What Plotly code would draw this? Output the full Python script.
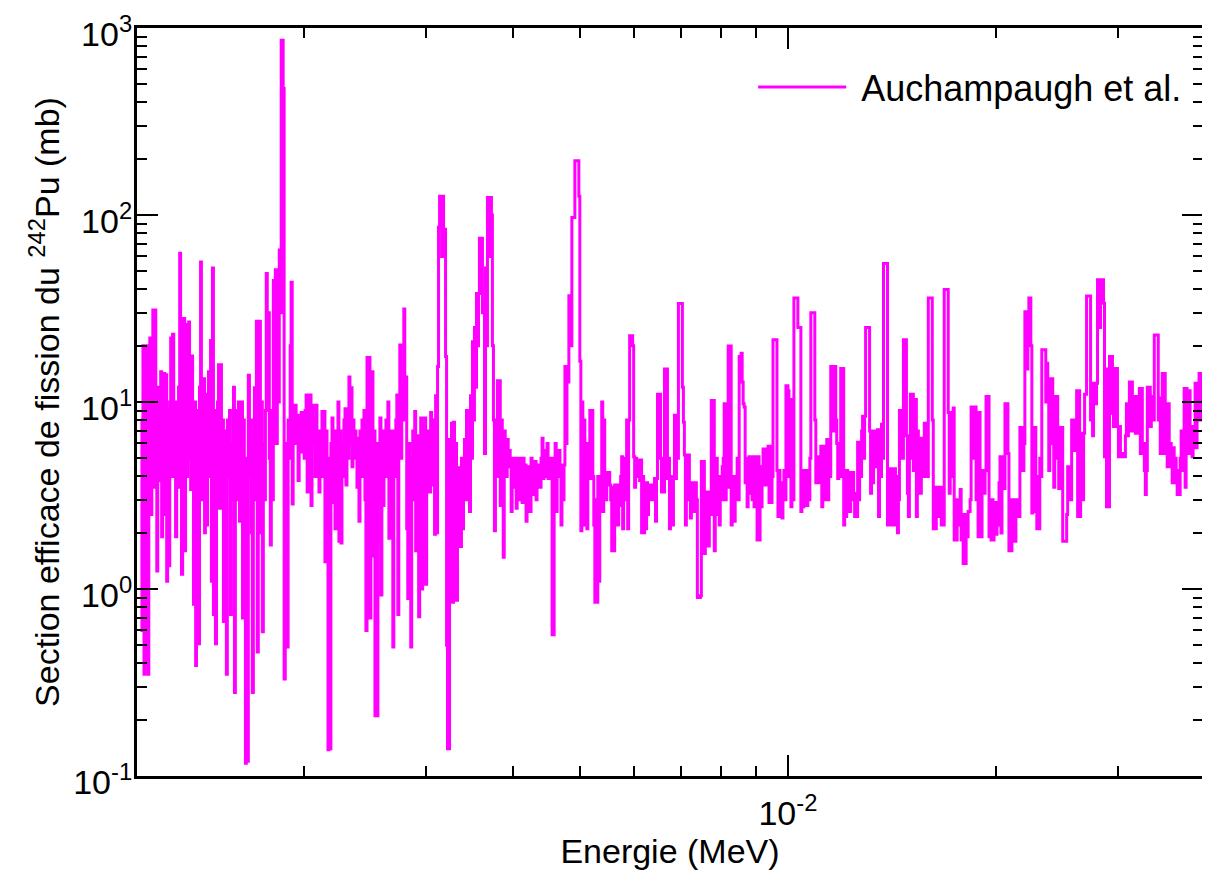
import plotly.graph_objects as go

# Energies in keV, cross sections in mb.
# Region A : ~1.16 - 1.63 keV
energy_a = [1.161,1.165,1.169,1.173,1.176,1.180,1.184,1.188,1.192,1.196,
            1.200,1.204,1.208,1.212,1.216,1.220,1.224,1.228,1.232,1.236,
            1.240,1.244,1.248,1.253,1.257,1.261,1.265,1.269,1.273,1.278,
            1.282,1.286,1.290,1.295,1.299,1.303,1.308,1.312,1.316,1.321,
            1.325,1.329,1.334,1.338,1.343,1.347,1.352,1.356,1.361,1.365,
            1.370,1.374,1.379,1.383,1.388,1.393,1.397,1.402,1.406,1.411,
            1.416,1.420,1.425,1.430,1.435,1.439,1.444,1.449,1.454,1.459,
            1.464,1.468,1.473,1.478,1.483,1.488,1.493,1.498,1.503,1.508,
            1.513,1.518,1.523,1.528,1.533,1.538,1.543,1.548,1.553,1.559,
            1.564,1.569,1.574,1.580,1.585,1.590,1.596,1.601,1.606,1.612,
            1.617,1.622,1.628,1.633]
sigma_a = [8,0.6,20,0.35,14,0.4,20,0.35,7,22,
           2.5,12,31,3.5,31,5,1.25,12,3.8,9,
           14.5,1.9,8,14.2,2.5,14,1.1,9,1.33,10,
           22,4,23,6,10,1.9,9,3.5,12,62.5,
           8,1.2,12,28,1.6,26,4,12,26.8,5,
           3.4,17.6,5,0.83,10,0.39,9,4,0.51,12,
           56,3,9,13.3,2.0,11,2.2,8,14.5,4,
           21.3,1.1,52,0.73,9,0.51,6,10,15.8,2.7,
           15.8,3.6,8,0.67,7,5,0.35,8,4,9,
           0.73,6,3,12,0.28,9,3,7,10,2.3,
           6,10,0.7,8]

# Region B : ~1.64 - 3.39 keV
energy_b = [1.638,1.644,1.649,1.655,1.660,1.666,1.671,1.677,1.682,1.688,
            1.694,1.699,1.705,1.710,1.716,1.722,1.728,1.733,1.739,1.745,
            1.751,1.757,1.762,1.768,1.774,1.780,1.786,1.792,1.798,1.804,
            1.810,1.816,1.822,1.828,1.834,1.840,1.846,1.852,1.858,1.864,
            1.870,1.877,1.883,1.889,1.895,1.902,1.908,1.914,1.921,1.927,
            1.933,1.940,1.946,1.953,1.959,1.966,1.972,1.979,1.985,1.992,
            1.999,2.005,2.012,2.019,2.025,2.032,2.038,2.045,2.052,2.059,
            2.066,2.073,2.080,2.086,2.093,2.100,2.107,2.114,2.121,2.128,
            2.135,2.142,2.149,2.157,2.164,2.171,2.178,2.185,2.193,2.200,
            2.207,2.215,2.222,2.230,2.237,2.244,2.252,2.259,2.267,2.274,
            2.282,2.290,2.297,2.305,2.313,2.320,2.328,2.336,2.344,2.351,
            2.359,2.367,2.375,2.383,2.391,2.399,2.407,2.415,2.423,2.431,
            2.439,2.447,2.455,2.464,2.472,2.480,2.488,2.496,2.505,2.513,
            2.521,2.530,2.538,2.547,2.555,2.564,2.572,2.581,2.589,2.598,
            2.607,2.615,2.624,2.633,2.641,2.650,2.658,2.667,2.676,2.685,
            2.694,2.703,2.712,2.721,2.730,2.739,2.748,2.757,2.766,2.775,
            2.785,2.794,2.803,2.812,2.822,2.831,2.840,2.850,2.859,2.869,
            2.878,2.888,2.897,2.907,2.917,2.926,2.936,2.946,2.955,2.965,
            2.975,2.985,2.995,3.005,3.015,3.025,3.035,3.045,3.055,3.065,
            3.075,3.085,3.096,3.106,3.116,3.126,3.137,3.158,3.168,3.179,3.200,
            3.211,3.221,3.232,3.243,3.254,3.264,3.275,3.286,3.297,3.308,
            3.319,3.330,3.341,3.352,3.363,3.374,3.386]
sigma_b = [3,0.117,5,0.12,13.9,4,8,2,0.28,6,
           11.9,3,27,0.46,6,27,2,10,0.59,6,
           3,9,48.7,10,30,5,1.72,9,3,44.6,
           8,51,6,20,10,65,30,860,860,475,
           0.33,6,2,0.49,8,5,20,43.7,2.85,9,
           6,9.6,7,8.5,3.8,8,5.4,8.8,6,8,
           5,9,10.9,3.3,9.5,5,10.9,2.8,9.6,6,
           8,4,9.6,5,6.4,3.3,7,5,8.9,4,
           8.9,1.4,7,5,0.138,4,0.14,6,8.2,2.9,
           6,2.1,7,4,10,1.8,7,1.76,6,4,
           8,9.2,3.6,7,5,13.6,6,11.9,4.5,8,
           5,7,6.4,3.5,6,2.3,7,4,8,6,
           9,3,0.6,17.3,5,17.3,0.7,6,14.5,1.5,
           7,0.21,5,0.21,6,3,8.2,0.93,6.4,2.8,
           7,4,8,5,10,1.87,5.2,2.4,7,0.49,
           6,4,8,10.9,0.73,8,20.2,5,9,12,
           31.4,8,13.6,2.1,0.89,6,3,0.49,5,7,
           3,8.9,1.6,6,6.6,0.71,6,8.2,1.0,7.5,
           3,8.2,1.06,6,4,7,3.3,8.8,3.6,8,
           5,1.96,10.8,2.0,15.5,86,126,60,126,84,17.5,
           0.5,0.14,0.14,6.3,4.45,7.7,0.85,7.8,3.9,6,
           0.87,3.2,2,4.45,1.69,5,2.1]

# Region C : ~3.40 - 8.56 keV
energy_c = [3.397,3.408,3.420,3.431,3.442,3.454,3.465,3.477,3.488,3.500,
            3.512,3.523,3.535,3.547,3.559,3.571,3.582,3.606,3.618,3.630,
            3.643,3.655,3.667,3.679,3.703,3.716,3.728,3.740,3.753,3.765,3.778,
            3.790,3.803,3.815,3.826,3.839,3.852,3.865,3.877,3.890,3.903,
            3.916,3.929,3.942,3.955,3.968,3.981,3.994,4.008,4.021,4.034,
            4.048,4.061,4.074,4.088,4.101,4.115,4.128,4.142,4.156,4.170,
            4.183,4.197,4.211,4.225,4.239,4.253,4.268,4.282,4.296,4.310,
            4.325,4.339,4.353,4.368,4.382,4.397,4.412,4.426,4.441,4.456,
            4.471,4.486,4.501,4.517,4.532,4.547,4.562,4.593,4.608,4.624,
            4.639,4.655,4.667,4.683,4.699,4.714,4.730,4.746,4.761,4.777,
            4.793,4.808,4.824,4.856,4.872,4.905,4.921,4.970,4.987,5.003,
            5.020,5.037,5.053,5.070,5.087,5.104,5.121,5.138,5.155,5.172,
            5.189,5.206,5.224,5.241,5.259,5.276,5.294,5.311,5.328,5.346,
            5.364,5.381,5.399,5.417,5.435,5.453,5.471,5.489,5.508,5.526,
            5.544,5.563,5.581,5.600,5.618,5.637,5.656,5.674,5.693,5.712,
            5.731,5.750,5.769,5.788,5.808,5.827,5.846,5.866,5.885,5.905,
            5.964,5.984,6.004,6.024,6.044,6.064,6.084,6.104,6.124,6.145,
            6.165,6.186,6.206,6.227,6.248,6.268,6.288,6.309,6.330,6.351,
            6.372,6.393,6.415,6.436,6.457,6.479,6.522,6.544,6.565,6.587,
            6.609,6.631,6.675,6.697,6.720,6.742,6.764,6.787,6.810,6.832,
            6.855,6.878,6.900,6.923,6.946,7.015,7.038,7.062,7.085,7.109,
            7.132,7.156,7.180,7.204,7.228,7.252,7.276,7.300,7.324,7.349,
            7.373,7.398,7.472,7.497,7.522,7.547,7.572,7.597,7.622,7.647,
            7.672,7.698,7.723,7.749,7.800,7.826,7.852,7.878,7.904,7.930,
            7.956,7.983,8.009,8.036,8.063,8.089,8.116,8.143,8.170,8.197,
            8.252,8.279,8.307,8.334,8.362,8.390,8.417,8.445,8.473,8.502,8.558]
sigma_c = [5,6.3,3,9,4,6,2.6,10.8,5,21,
           8,25,12,38,20,38,75,75,30,35,
           5.3,52,20,124,60,124,100,20,8,2.05,8,
           5,13,4,13,2.8,8,4,1.48,7,6.3,
           4,6.3,4.5,5.5,5,2.6,4.5,5,3.5,5,
           2.7,4.5,4,5,3,4.8,2.9,5,4,4.6,
           2.3,4.5,3.5,4.4,2.6,5,4,4.8,3.2,4.8,
           3.0,4.6,3.8,4.5,3.5,5,6.4,3.9,5.5,4,
           5.5,6,3.9,5,4,5,0.57,4,6,2.6,
           5,4,5.5,4.6,2.2,4,3,4.6,15.5,6,
           15.5,12.8,37,20,97,97,195,195,126,16.5,
           2.05,10,4,8,2.2,6,2.1,5,4,9,
           3.9,9,4,2.2,0.85,3,0.85,4,1.1,4,
           3,10,2.6,8,4,3,4.2,3.6,4.2,3.6,
           3,1.6,3.5,1.6,3.6,2.2,3.4,2.2,3.6,2.8,
           4,5.1,2.1,5,3,5,8,2.1,8,22.6,
           20,5.1,3.5,5,4,4.5,4.9,3.8,4.9,2.0,
           4,2.0,3.7,2.1,3.7,2.5,3.5,3,3.6,3.3,
           3.6,3,3.9,2.3,3.9,11,11,5,3.3,5,
           3.3,15,15,3.9,5,2.1,4,3,2.2,4,
           8.5,3.9,8.5,5,33.6,33.6,12,7.8,5.2,2.2,
           5.2,3,5.2,3.7,2.4,3.7,2.6,3.7,2.6,3.7,
           3,0.9,0.92,4.8,3,4.8,1.55,3,2.5,3.3,
           1.7,3.3,2.5,10.2,10.2,1.6,4,5,2.5,4,
           2.2,4,3,4.5,5,9.8,3,4,3.5,19.9,
           19.9,2.2,4,3,2.3,4,3.5,5,3,17.5,18.2]

# Region D : ~8.59 - 19.6 keV
energy_d = [8.587,8.615,8.644,8.673,8.701,8.730,8.759,8.788,8.817,8.847,
            8.876,8.906,8.935,8.965,8.995,9.024,9.054,9.084,9.115,9.145,
            9.175,9.206,9.236,9.267,9.298,9.329,9.359,9.390,9.421,9.452,
            9.484,9.515,9.609,9.641,9.674,9.706,9.738,9.770,9.803,9.835,
            9.868,9.901,9.934,10.000,10.033,10.067,10.100,10.134,10.168,10.201,
            10.303,10.337,10.406,10.440,10.475,10.510,10.545,10.580,10.615,10.650,
            10.685,10.721,10.757,10.792,10.900,10.936,10.972,11.009,11.045,11.082,
            11.118,11.155,11.192,11.229,11.267,11.304,11.342,11.379,11.417,11.455,
            11.493,11.531,11.608,11.646,11.724,11.763,11.802,11.841,11.880,11.920,11.999,
            12.039,12.079,12.119,12.159,12.199,12.240,12.280,12.321,12.362,12.403,
            12.444,12.485,12.527,12.568,12.610,12.652,12.694,12.736,12.778,12.820,
            12.863,12.906,12.949,13.078,13.122,13.165,13.209,13.253,13.297,13.341,
            13.385,13.429,13.474,13.519,13.563,13.609,13.654,13.699,13.745,13.882,
            13.928,13.974,14.021,14.067,14.114,14.161,14.208,14.255,14.302,14.350,
            14.397,14.445,14.493,14.590,14.638,14.687,14.784,14.834,14.882,14.932,
            14.981,15.031,15.131,15.181,15.232,15.282,15.333,15.383,15.434,15.486,
            15.537,15.589,15.640,15.692,15.744,15.797,15.849,15.901,15.954,16.113,
            16.167,16.221,16.275,16.329,16.383,16.437,16.492,16.546,16.601,16.657,
            16.712,16.767,16.823,16.991,17.048,17.104,17.161,17.218,17.275,17.333,
            17.390,17.448,17.506,17.563,17.622,17.680,17.739,17.798,17.857,17.916,
            17.975,18.035,18.095,18.155,18.215,18.275,18.336,18.397,18.520,18.581,18.705,
            18.766,18.829,18.891,18.954,19.017,19.080,19.143,19.207,19.271,19.335,
            19.463,19.528,19.593]
sigma_d = [12.8,9.8,9.4,3.7,5,2.75,4,5.1,3.25,4.5,
           3,5.1,2.75,4.5,5.1,1.83,5.1,1.83,4,2.75,
           4.5,5.6,3.6,5.6,3.6,4.5,5.8,2.9,5.8,2.9,
           4,21.5,21.5,4.3,2.44,4.3,3,3.7,2.4,3.7,
           4.3,3,12.2,11.5,4,10.3,2.75,5,3,36,
           36,25,25,2.6,4.3,2.75,4.3,3,4.3,2.8,
           4.3,3,5,30,30,8,3.7,5.1,3.7,5.1,
           4,5.8,2.75,5.8,3,5,4,6.3,3.0,6.3,
           4,15.5,7,15.5,8,6,3.9,6,4,15.1,15.1,
           2.2,4.3,2.44,4.3,2.6,4.2,2.6,4.2,3,4.2,
           3.25,2.44,3.25,2.44,6.1,3.0,6.1,4,7,8.4,
           5,8.4,25,25,7,3.25,7,3.7,7,5,
           6.4,4.5,7.1,2.44,7.1,4,7.6,5,55,55,
           2.2,4,2.2,4.4,3,4.4,2.2,4.4,3,4,
           2.0,3,9,9,5,21.5,21.5,6.6,3.25,2.44,
           5,11,11,4.3,8,10.3,2.44,7,4,6.4,
           3.25,6.4,4,5,7.7,4,7.7,4,36,36,
           8,2.1,3.5,2.1,3.5,2.44,3.5,2.44,3.5,2.2,
           3.5,2.2,40,40,8.8,3.25,8.8,4,6,9.3,
           1.83,3,1.83,3,2.2,3,3.4,1.83,2.5,1.37,
           2.2,1.37,2.5,1.9,2.6,2.6,3,9.4,5,9.4,3,
           8.8,1.9,8.8,3.7,1.9,3.7,4.3,3.25,4.3,10.7,
           10.7,1.9,3]

# Region E : ~19.7 - 39.7 keV
energy_e = [19.658,19.723,19.789,19.855,19.921,19.987,20.052,20.119,20.186,20.253,
            20.320,20.388,20.455,20.523,20.591,20.727,20.796,20.865,21.004,21.073,
            21.143,21.214,21.284,21.355,21.425,21.497,21.568,21.640,21.712,21.784,
            21.856,21.929,22.002,22.147,22.221,22.295,22.443,22.518,22.593,22.668,22.743,
            22.818,22.893,23.046,23.122,23.199,23.276,23.508,23.586,23.664,23.743,
            23.822,23.901,23.981,24.060,24.140,24.220,24.301,24.381,24.461,24.543,
            24.625,24.706,24.789,24.871,24.954,25.203,25.285,25.369,25.453,25.537,
            25.622,25.707,25.792,25.878,25.964,26.050,26.137,26.224,26.311,26.398,
            26.486,26.574,26.662,26.750,26.839,26.928,27.017,27.287,27.378,27.469,
            27.560,27.651,27.743,27.835,27.927,28.020,28.207,28.301,28.581,28.676,28.772,
            28.868,29.060,29.156,29.253,29.350,29.448,29.546,29.644,29.742,29.840,
            29.939,30.039,30.139,30.239,30.339,30.440,30.541,30.643,30.744,30.845,
            30.948,31.051,31.154,31.258,31.361,31.466,31.570,31.675,31.780,31.884,
            31.990,32.097,32.203,32.310,32.417,32.525,32.633,32.741,32.850,32.958,
            33.068,33.178,33.288,33.399,33.510,33.621,33.733,33.845,34.183,34.296,
            34.410,34.524,34.639,34.754,34.869,34.985,35.100,35.216,35.333,35.451,
            35.568,35.686,35.805,35.923,36.043,36.162,36.282,36.402,36.523,36.644,
            36.766,36.888,37.010,37.133,37.256,37.380,37.504,37.628,37.753,37.878,
            38.004,38.130,38.256,38.383,38.511,38.638,38.767,38.895,39.024,39.153,
            39.283,39.414,39.544,39.675]
sigma_e = [1.83,3,1.83,2.6,2.9,1.96,2.9,2.2,3.7,5.1,
           1.99,5.1,4.3,3.45,9.8,9.8,5.3,1.6,1.6,3,
           1.8,3,1.8,3,2.44,2.9,2.44,7.3,4.3,7.3,
           4.3,6,30.4,15,30.4,36,20,2.55,7.3,2.6,7.3,
           4,2.1,2.1,5,4,19,19,10,16.1,13.3,
           4.3,13.3,6,13.3,10.7,3.5,10.7,5,10.7,7.3,
           3.45,7.3,3.45,7.3,1.8,1.8,2.5,4.5,3.0,4.5,
           3,8,5.5,8,5.5,6,11.5,2.44,11.5,2.44,
           6,6.8,3.0,6.8,11,11,36.9,36.9,8,12.6,
           6.6,12.6,12.6,9.8,12.6,45,25,45,33.7,5.1,15,
           2.75,2.75,17.5,8.7,17.5,15.1,7.4,15.1,7.4,15.1,
           7.4,5.1,7.4,5.1,5.3,5.1,5.3,5.1,6.6,9.8,
           6.6,9.8,12.8,7.0,12.8,7,10,10.7,6.8,10.7,
           6.8,8,11.8,5.3,11.8,5.3,6,4.3,3.2,4.3,
           12,7.4,12,7.4,10.7,10.7,8,22.8,22.8,8,
           10.5,5.3,10.5,14.2,5.3,14.2,8,9.8,4.5,9.8,
           4.5,6,5.7,3.7,5.7,3.7,5,4.3,3.2,4.3,
           3.2,5,7.0,4.3,6,11.8,3.5,11.8,11.5,5.3,
           11.5,6,7.4,5.1,7.4,6,12.6,5.7,12.6,8,
           14.2,8,14.2,10]

# Axis tick labels
y_tick_vals = [0.1, 1, 10, 100, 1000]
y_tick_text = ["10<sup>-1</sup>", "10<sup>0</sup>", "10<sup>1</sup>",
               "10<sup>2</sup>", "10<sup>3</sup>"]
x_tick_vals = [0.01]
x_tick_text = ["10<sup>-2</sup>"]
x_minor_vals = [0.002, 0.003, 0.004, 0.005, 0.006, 0.007, 0.008, 0.009, 0.02, 0.03]
y_minor_vals = [k * 10.0 ** n for n in range(-1, 3) for k in range(2, 10)]

energy_kev = energy_a + energy_b + energy_c + energy_d + energy_e
sigma_mb = sigma_a + sigma_b + sigma_c + sigma_d + sigma_e
energy_mev = [e / 1000.0 for e in energy_kev]

FONT = "Liberation Sans, Arial, Helvetica, sans-serif"
FS = 34

fig = go.Figure()
fig.add_trace(go.Scatter(
    x=energy_mev, y=sigma_mb, mode="lines", name="\u00a0Auchampaugh et al.",
    line=dict(color="#FF00FF", width=3, shape="hv"),
))

axis_common = dict(
    showline=True, linewidth=3, linecolor="black", mirror="ticks",
    ticks="inside", ticklen=21, tickwidth=2, tickcolor="black",
    showgrid=False, zeroline=False, automargin=False,
    ticklabeloverflow="allow",
    tickfont=dict(family=FONT, size=FS, color="black"),
)

fig.update_xaxes(
    type="log", range=[-2.9408, -1.4001],
    tickmode="array", tickvals=x_tick_vals, ticktext=x_tick_text,
    minor=dict(tickmode="array", tickvals=x_minor_vals, ticks="inside",
               ticklen=10, tickwidth=2, tickcolor="black"),
    ticklabelstandoff=5,
    title=dict(text="Energie (MeV)", font=dict(family=FONT, size=FS, color="black"),
               standoff=0),
    **axis_common,
)
fig.update_yaxes(
    type="log", range=[-1, 3],
    tickmode="array", tickvals=y_tick_vals, ticktext=y_tick_text,
    minor=dict(tickmode="array", tickvals=y_minor_vals, ticks="inside",
               ticklen=10, tickwidth=2, tickcolor="black"),
    ticklabelstandoff=-5, ticklabelshift=6,
    title=dict(text="Section efficace de fission du <sup>242</sup>Pu (mb)",
               font=dict(family=FONT, size=FS, color="black"), standoff=4),
    **axis_common,
)

# The page body adds an 8 px offset, so the figure is 8 px smaller and the
# left/top margins are 8 px narrower to land the plot frame where it belongs.
fig.update_layout(
    width=1202, height=864,
    margin=dict(l=129, r=7, t=20, b=96),
    plot_bgcolor="white", paper_bgcolor="white",
    font=dict(family=FONT, size=FS, color="black"),
    showlegend=True,
    legend=dict(x=0.578, y=0.921, xanchor="left", yanchor="middle",
                bgcolor="rgba(0,0,0,0)", borderwidth=0,
                font=dict(family=FONT, size=36, color="black"),
                itemwidth=88),
)

fig.write_html("out.html")
